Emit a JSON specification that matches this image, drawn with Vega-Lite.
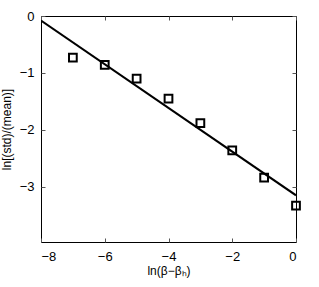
{
  "$schema": "https://vega.github.io/schema/vega-lite/v6.json",
  "autosize": {"type": "none"},
  "width": 255,
  "height": 226,
  "padding": {"left": 41, "top": 16, "right": 23, "bottom": 45},
  "background": "white",
  "config": {
    "view": {"stroke": "black", "strokeWidth": 1},
    "font": "Liberation Sans",
    "axis": {
      "grid": false,
      "domain": false,
      "tickColor": "#555555",
      "tickSize": -4,
      "labelFont": "Liberation Sans",
      "labelFontSize": 13,
      "labelColor": "black",
      "titleFont": "Liberation Sans",
      "titleFontSize": 12,
      "titleFontWeight": "normal",
      "titleColor": "black"
    }
  },
  "datasets": {
    "points": [
      {"x": -7, "y": -0.73},
      {"x": -6, "y": -0.86},
      {"x": -5, "y": -1.10},
      {"x": -4, "y": -1.45},
      {"x": -3, "y": -1.88},
      {"x": -2, "y": -2.36},
      {"x": -1, "y": -2.84},
      {"x": 0, "y": -3.33}
    ],
    "fit": [
      {"x": -8, "y": -0.08},
      {"x": 0, "y": -3.15}
    ]
  },
  "layer": [
    {
      "data": {"name": "fit"},
      "mark": {"type": "line", "color": "black", "strokeWidth": 2, "clip": true},
      "encoding": {
        "x": {"field": "x", "type": "quantitative", "scale": {"domain": [-8, 0], "nice": false, "zero": false},
              "axis": {"orient": "bottom", "values": [-8, -6, -4, -2, 0], "title": "ln(β−βₕ)", "labelPadding": 12, "titlePadding": 2}},
        "y": {"field": "y", "type": "quantitative", "scale": {"domain": [-3.97, 0], "nice": false, "zero": false},
              "axis": {"orient": "left", "values": [-3, -2, -1, 0], "title": "ln[(std)/(mean)]", "labelPadding": 11, "titlePadding": 6}}
      }
    },
    {
      "data": {"name": "points"},
      "mark": {"type": "point", "shape": "square", "filled": false, "color": "black", "strokeWidth": 2, "size": 60, "opacity": 1},
      "encoding": {
        "x": {"field": "x", "type": "quantitative",
              "axis": {"orient": "top", "values": [-8, -6, -4, -2, 0], "labels": false, "title": null}},
        "y": {"field": "y", "type": "quantitative",
              "axis": {"orient": "right", "values": [-3, -2, -1, 0], "labels": false, "title": null}}
      }
    }
  ],
  "resolve": {"axis": {"x": "independent", "y": "independent"}}
}
